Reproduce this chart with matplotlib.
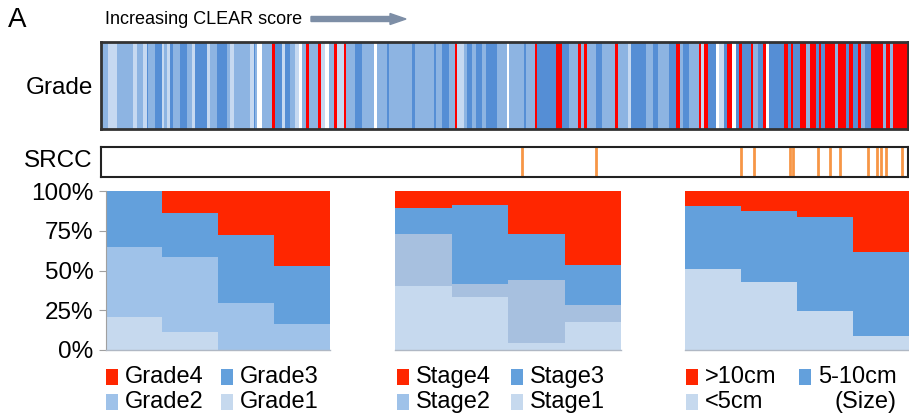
import numpy as np
import matplotlib.pyplot as plt
from matplotlib.patches import Rectangle, FancyArrow

plt.rcParams['font.family'] = ['Liberation Sans', 'DejaVu Sans']

W, H = 909, 416

# grade of each patient, ordered by CLEAR score (run-length coded)
# 0 = missing, 1..4 = Grade1..Grade4
grade_codes = [
    2, 1, 2, 1, 2, 1, 3, 2, 3, 1, 2, 1, 3, 2, 3, 2, 1, 3, 1, 2, 3, 2, 1, 2, 1, 3, 2, 0, 2, 4,
    3, 1, 3, 2, 1, 0, 2, 4, 2, 4, 1, 0, 2, 4, 1, 4, 2, 3, 2,
    2, 0, 2, 3, 2, 3, 2, 3, 2, 3, 2, 4, 1, 2, 3, 2, 3, 2, 3, 2, 0, 2, 3, 2, 4, 3, 4, 3, 2, 4,
    2, 4, 2, 3, 2, 4, 2, 1, 3,
    3, 2, 3, 2, 3, 4, 2, 3, 2, 4, 1, 4, 3, 0, 1, 3, 4, 0, 3, 4, 3, 4, 2, 3, 4, 0, 3, 4, 3, 4,
    3, 4, 2, 4, 3, 4, 3, 4, 2, 4, 3, 4, 3, 4, 2, 3, 4, 2, 4, 2, 4,
]
grade_runs = [
    22, 25, 50, 10, 20, 10, 5, 20, 20, 8, 7, 10, 10, 20, 20, 15, 10, 35, 10, 20, 30, 10, 10, 50, 10, 5, 5, 15, 30, 10,
    20, 10, 15, 15, 10, 10, 12, 10, 26, 10, 12, 10, 15, 10, 20, 7, 28, 20, 20,
    15, 10, 30, 7, 68, 8, 57, 5, 20, 20, 17, 8, 20, 10, 15, 10, 20, 10, 35, 28, 7, 45, 5, 27, 8, 55, 20, 20, 27, 8,
    10, 8, 27, 20, 37, 10, 28, 10, 25,
    20, 20, 15, 35, 20, 12, 8, 20, 28, 7, 10, 10, 25, 10, 15, 7, 16, 12, 8, 9, 28, 7, 13, 15, 10, 8, 47, 10, 10, 7,
    20, 18, 10, 20, 8, 7, 10, 30, 10, 25, 8, 12, 15, 10, 10, 20, 35, 10, 10, 10, 45,
]
heat_colors = {0: '#ffffff', 1: '#c6d9f1', 2: '#8db4e2', 3: '#558ed5', 4: '#ff0000'}

# signet ring cell carcinoma cases, position along the score rank (0-1)
srcc_pos = [0.522, 0.613, 0.793, 0.809, 0.854, 0.858, 0.888, 0.903, 0.916, 0.950, 0.962, 0.966, 0.973, 0.993]

# composition of each CLEAR quartile (%), bottom to top
grade_labels = ['Grade1', 'Grade2', 'Grade3', 'Grade4']
grade_pct = [
    [20.6, 11.6, 0.0, 0.0],
    [44.2, 46.9, 29.5, 16.4],
    [35.2, 27.4, 42.7, 36.2],
    [0.0, 14.1, 27.8, 47.4],
]
stage_labels = ['Stage1', 'Stage2', 'Stage3', 'Stage4']
stage_pct = [
    [40.4, 33.5, 4.2, 17.8],
    [32.8, 7.9, 39.7, 10.4],
    [16.3, 49.6, 28.9, 25.1],
    [10.5, 9.0, 27.2, 46.7],
]
size_labels = ['<5cm', '5-10cm', '>10cm']
size_pct = [
    [50.9, 42.7, 24.6, 8.8],
    [39.6, 44.7, 59.2, 52.7],
    [9.5, 12.6, 16.2, 38.5],
]

c_red = '#ff2600'
c_mid = '#63a0dc'
c_light = '#9fc2e9'
c_pale = '#c6d9ee'
c_stage2 = '#a7c0df'
grade_cols = [c_pale, c_light, c_mid, c_red]
stage_cols = [c_pale, c_stage2, c_mid, c_red]
size_cols = [c_pale, c_mid, c_red]


def box(x0, y0, x1, y1):
    return [x0 / W, 1 - y1 / H, (x1 - x0) / W, (y1 - y0) / H]


fig = plt.figure(figsize=(W / 100, H / 100), dpi=100)

# header
fig.text(8 / W, 1 - 20 / H, 'A', fontsize=20, ha='left', va='center')
fig.text(105 / W, 1 - 19 / H, 'Increasing CLEAR score', fontsize=13, ha='left', va='center')
fig.add_artist(FancyArrow(311 / W, 1 - 19 / H, 79 / W, 0, width=5 / H, head_width=11 / H,
                          head_length=16 / W, length_includes_head=False,
                          color='#7d8ea6', transform=fig.transFigure))

# grade heat strip
ax_h = fig.add_axes(box(101, 42, 908, 129))
runs = np.array(grade_runs, dtype=float)
total = runs.sum()
starts = np.concatenate([[0], np.cumsum(runs)[:-1]]) / total
ax_h.bar(starts, 1, width=runs / total, align='edge',
         color=[heat_colors[g] for g in grade_codes], linewidth=0)
ax_h.set_xlim(0, 1)
ax_h.set_ylim(0, 1)
ax_h.set_xticks([])
ax_h.set_yticks([])
for s in ax_h.spines.values():
    s.set_linewidth(2)
    s.set_color('#333333')
fig.text(93 / W, 1 - 88 / H, 'Grade', fontsize=17.5, ha='right', va='center')

# SRCC strip
ax_s = fig.add_axes(box(101, 147, 908, 177))
for p in srcc_pos:
    ax_s.axvline(p, color='#f79646', lw=2)
ax_s.set_xlim(0, 1)
ax_s.set_ylim(0, 1)
ax_s.set_xticks([])
ax_s.set_yticks([])
for s in ax_s.spines.values():
    s.set_linewidth(1.5)
    s.set_color('#222222')
fig.text(93 / W, 1 - 161 / H, 'SRCC', fontsize=17.5, ha='right', va='center')


def stacked(ax, pct, cols):
    x = np.arange(4)
    bottom = np.zeros(4)
    for vals, c in zip(pct, cols):
        ax.bar(x, vals, bottom=bottom, width=1.0, color=c, linewidth=0)
        bottom += np.array(vals)
    ax.set_xlim(-0.5, 3.5)
    ax.set_ylim(0, 100)
    ax.set_xticks([])
    for side in ['top', 'right', 'left']:
        ax.spines[side].set_visible(False)
    ax.spines['bottom'].set_color('#b0b8c4')
    ax.spines['bottom'].set_linewidth(1)


ax1 = fig.add_axes(box(106, 191, 330, 350))
stacked(ax1, grade_pct, grade_cols)
ax1.spines['left'].set_visible(True)
ax1.spines['left'].set_color('#a0a0a0')
ax1.set_yticks([0, 25, 50, 75, 100])
ax1.set_yticklabels(['0%', '25%', '50%', '75%', '100%'], fontsize=17.5)
ax1.tick_params(axis='y', length=5, color='#a0a0a0', pad=4)

ax2 = fig.add_axes(box(395, 191, 621, 350))
stacked(ax2, stage_pct, stage_cols)
ax2.set_yticks([])

ax3 = fig.add_axes(box(685, 191, 909, 350))
stacked(ax3, size_pct, size_cols)
ax3.set_yticks([])


def legend_item(x, y, color, label):
    fig.add_artist(Rectangle(((x) / W, 1 - (y + 8) / H), 12 / W, 16 / H,
                             color=color, transform=fig.transFigure, lw=0))
    fig.text((x + 19) / W, 1 - y / H, label, fontsize=17, ha='left', va='center')


rows = [377, 402]
legend_item(106, rows[0], c_red, 'Grade4')
legend_item(221, rows[0], c_mid, 'Grade3')
legend_item(106, rows[1], c_light, 'Grade2')
legend_item(221, rows[1], c_pale, 'Grade1')

legend_item(397, rows[0], c_red, 'Stage4')
legend_item(511, rows[0], c_mid, 'Stage3')
legend_item(397, rows[1], c_light, 'Stage2')
legend_item(511, rows[1], c_pale, 'Stage1')

legend_item(686, rows[0], c_red, '>10cm')
legend_item(799, rows[0], c_mid, '5-10cm')
legend_item(686, rows[1], c_pale, '<5cm')
fig.text(835 / W, 1 - rows[1] / H, '(Size)', fontsize=17, ha='left', va='center')

fig.savefig('out.png', dpi=100)
